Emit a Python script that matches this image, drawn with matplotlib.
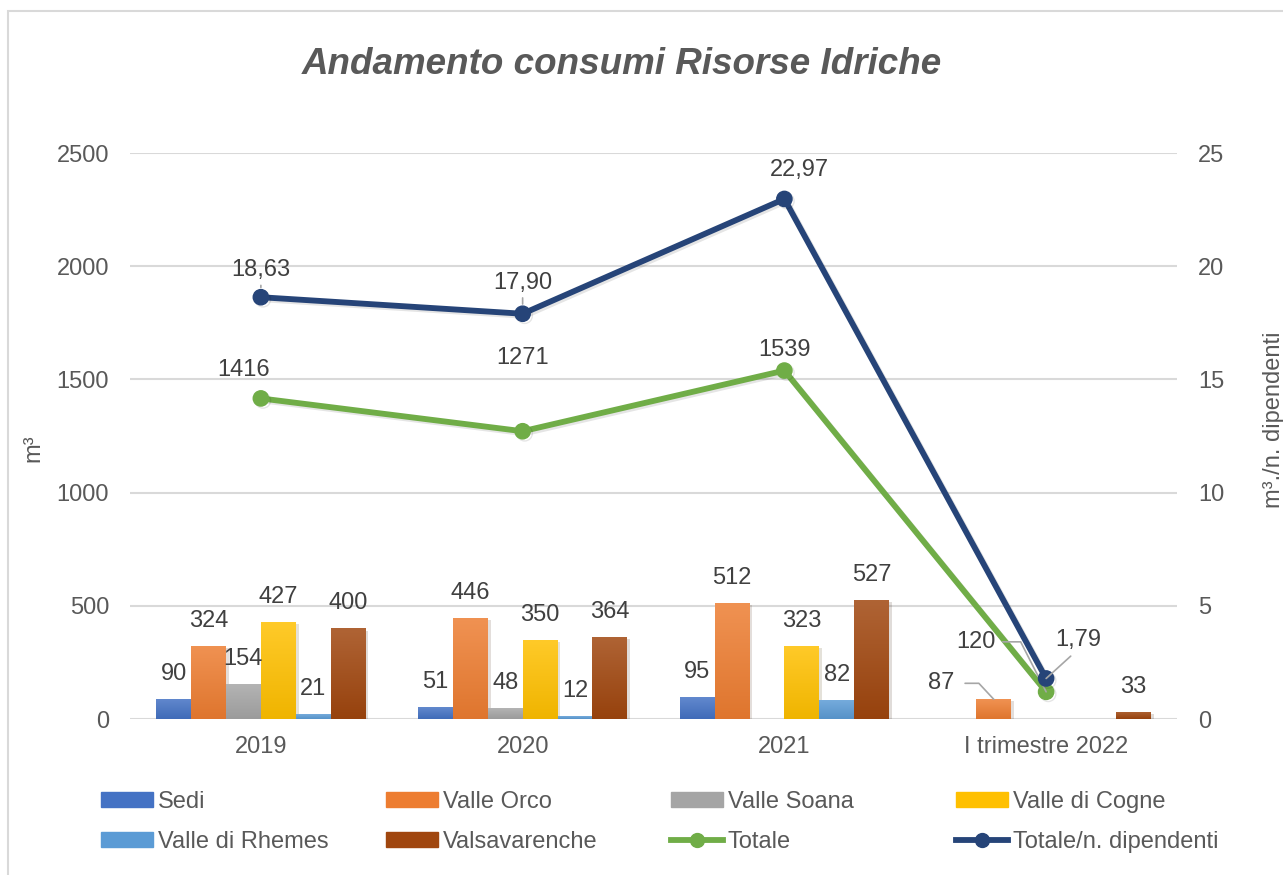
import numpy as np
import matplotlib
matplotlib.use('Agg')
import matplotlib.pyplot as plt
import matplotlib.patheffects as pe
from matplotlib.colors import LinearSegmentedColormap, to_rgb
from matplotlib.lines import Line2D
from matplotlib.patches import Patch, Rectangle

plt.rcParams['font.family'] = ['Liberation Sans', 'DejaVu Sans']

# data
categories = ['2019', '2020', '2021', 'I trimestre 2022']
sedi = [90, 51, 95, 0]
valle_orco = [324, 446, 512, 87]
valle_soana = [154, 48, 0, 0]
valle_cogne = [427, 350, 323, 0]
valle_rhemes = [21, 12, 82, 0]
valsavarenche = [400, 364, 527, 33]
totale = [1416, 1271, 1539, 120]
totale_dip = [18.63, 17.90, 22.97, 1.79]

bar_series = [
    ('Sedi', sedi, '#4472C4'),
    ('Valle Orco', valle_orco, '#ED7D31'),
    ('Valle Soana', valle_soana, '#A5A5A5'),
    ('Valle di Cogne', valle_cogne, '#FFC000'),
    ('Valle di Rhemes', valle_rhemes, '#5B9BD5'),
    ('Valsavarenche', valsavarenche, '#A0460E'),
]
green = '#70AD47'
navy = '#264478'
txt = '#404040'
tick_c = '#595959'
grid_c = '#D9D9D9'
lead_c = '#A6A6A6'


def mix(c, other, f):
    c, o = np.array(to_rgb(c)), np.array(to_rgb(other))
    return tuple(c * (1 - f) + o * f)


W, H = 1283, 875
fig = plt.figure(figsize=(W / 100, H / 100), dpi=100)

# chart area frame
fig.patches.append(Rectangle((8 / W, -0.1), 1.2, 1 - 11 / H + 0.1, transform=fig.transFigure,
                             fill=False, edgecolor=grid_c, lw=1.5))

ax = fig.add_axes([130 / W, 156 / H, 1047 / W, 566 / H])
ax2 = ax.twinx()

x = np.arange(len(categories))
n = len(bar_series)
bw = 0.8 / n
bar_shadow = [pe.SimplePatchShadow(offset=(2, -1.5), alpha=0.15), pe.Normal()]
grad = np.linspace(0, 1, 64).reshape(-1, 1)
for i, (name, vals, col) in enumerate(bar_series):
    pos = x + (i - (n - 1) / 2) * bw
    bars = ax.bar(pos, vals, bw, color=col, zorder=2)
    cmap = LinearSegmentedColormap.from_list(name, [mix(col, 'white', 0.16), mix(col, 'black', 0.06)])
    for b in bars:
        b.set_path_effects(bar_shadow)
        if b.get_height() > 0:
            im = ax.imshow(grad, cmap=cmap, aspect='auto', zorder=2.1,
                           extent=(b.get_x(), b.get_x() + b.get_width(), 0, b.get_height()))
            im.set_clip_path(b)
    for p, v in zip(pos, vals):
        if v == 0:
            continue
        if name == 'Valle Orco' and p > 2.5:
            continue
        ax.annotate(str(v), (p, v), xytext=(0, 25), textcoords='offset pixels',
                    ha='center', va='center', fontsize=17, color=txt, zorder=5)

line_shadow = [pe.SimpleLineShadow(offset=(1.5, -1.5), alpha=0.1), pe.Normal()]
ax.plot(x, totale, color=green, lw=4.2, marker='o', ms=11, zorder=4,
        solid_capstyle='round', path_effects=line_shadow)
ax2.plot(x, totale_dip, color=navy, lw=4.2, marker='o', ms=11, zorder=4,
         solid_capstyle='round', path_effects=line_shadow)

# line labels (offsets in pixels, as placed in the original)
tot_off = [(-17, 28), (0, 73), (0, 21), (-70, 50)]
for i, (v, off) in enumerate(zip(totale, tot_off)):
    kw = {}
    if i == 3:
        kw['arrowprops'] = dict(arrowstyle='-', color=lead_c, lw=1.2, relpos=(1, 0.5),
                                shrinkA=3, shrinkB=0,
                                connectionstyle='angle,angleA=0,angleB=117,rad=0')
    ax.annotate(str(v), (x[i], v), xytext=off, textcoords='offset pixels',
                ha='center', va='center', fontsize=17, color=txt, zorder=6, **kw)

# Valle Orco 2022 label with leader
p87 = x[3] + (1 - (n - 1) / 2) * bw
ax.annotate(str(valle_orco[3]), (p87, valle_orco[3]), xytext=(-53, 16), textcoords='offset pixels',
            ha='center', va='center', fontsize=17, color=txt, zorder=6,
            arrowprops=dict(arrowstyle='-', color=lead_c, lw=1.2, relpos=(1, 0.5),
                            shrinkA=6, shrinkB=0,
                            connectionstyle='angle,angleA=0,angleB=133,rad=0'))

dip_off = [(0, 27), (0, 31), (15, 29), (32, 38)]
for i, (v, off) in enumerate(zip(totale_dip, dip_off)):
    kw = {}
    if i == 3:
        kw['arrowprops'] = dict(arrowstyle='-', color=lead_c, lw=1.2, relpos=(0.45, 0),
                                shrinkA=2, shrinkB=0)
    elif i < 2:
        kw['arrowprops'] = dict(arrowstyle='-', color=lead_c, lw=1.2, relpos=(0.5, 0),
                                shrinkA=1, shrinkB=7)
    ax2.annotate(f'{v:.2f}'.replace('.', ','), (x[i], v), xytext=off, textcoords='offset pixels',
                 ha='center', va='center', fontsize=17, color=txt, zorder=6, **kw)

# axes
ax.set_xlim(-0.5, len(categories) - 0.5)
ax.set_ylim(0, 2500)
ax2.set_ylim(0, 25)
ax.set_yticks(np.arange(0, 2501, 500))
ax2.set_yticks(np.arange(0, 26, 5))
ax.set_xticks(x)
ax.set_xticklabels(categories)
ax.yaxis.grid(True, color=grid_c, lw=1.5)
ax.set_axisbelow(True)
for a in (ax, ax2):
    for s in a.spines.values():
        s.set_visible(False)
    a.tick_params(length=0, labelsize=17, labelcolor=tick_c)
ax.tick_params(axis='y', pad=15)
ax.tick_params(axis='x', pad=12)
ax2.tick_params(axis='y', pad=15)

ax.set_ylabel('m³', fontsize=17, color=tick_c)
ax.yaxis.set_label_coords(-0.082, 0.479)
ax2.set_ylabel('m³./n. dipendenti', fontsize=17, color=tick_c, rotation=90)
ax2.yaxis.set_label_coords(1.082, 0.528)

fig.text(622 / W, 1 - 65 / H, 'Andamento consumi Risorse Idriche', ha='center', va='center',
         fontsize=26.5, fontweight='bold', fontstyle='italic', color=tick_c)

# legend: four columns placed like the original
handles = [Patch(color=c) for _, _, c in bar_series]
handles.append(Line2D([], [], color=green, lw=4.2, marker='o', ms=10))
handles.append(Line2D([], [], color=navy, lw=4.2, marker='o', ms=10))
labels = [s[0] for s in bar_series] + ['Totale', 'Totale/n. dipendenti']
order = [(0, 4), (1, 5), (2, 6), (3, 7)]
col_x = [101, 386, 671, 956]
for cx, (a, b) in zip(col_x, order):
    leg = fig.legend([handles[a], handles[b]], [labels[a], labels[b]],
                     loc='center left', bbox_to_anchor=(cx / W, 1 - 822 / H),
                     frameon=False, fontsize=17, handlelength=2.2, handleheight=0.6,
                     handletextpad=0.2, labelspacing=0.78, borderpad=0, borderaxespad=0)
    for t in leg.get_texts():
        t.set_color(tick_c)

fig.savefig('out.png', dpi=100)
